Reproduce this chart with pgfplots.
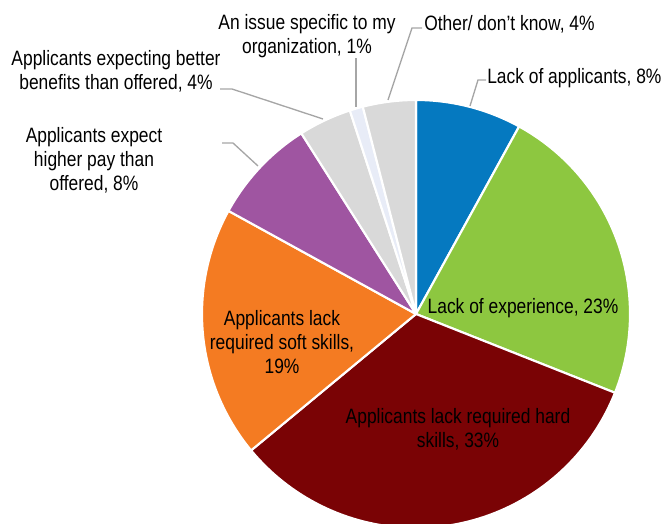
\documentclass[border=0pt]{standalone}
\usepackage{pgfplots}
\pgfplotsset{compat=1.18}
\usepackage{fontspec}
\setmainfont{Liberation Sans}[FakeStretch=0.837]
\definecolor{cBlue}{HTML}{0579C0}
\definecolor{cGreen}{HTML}{8DC740}
\definecolor{cRed}{HTML}{7A0305}
\definecolor{cOrange}{HTML}{F47B22}
\definecolor{cPurple}{HTML}{9F55A1}
\definecolor{cGrey}{HTML}{D9D9D9}
\definecolor{cLav}{HTML}{E8ECF7}
\definecolor{cLine}{HTML}{A6A6A6}
\tikzset{lbl/.style={font=\fontsize{15.6pt}{18pt}\selectfont, align=center, text=black, inner sep=0pt}}
% center and radius in pixel units (y measured from bottom)
\def\cx{416}
\def\cy{210}
\def\R{214}
% #1 = cumulative percent before slice, #2 = slice percent, #3 = colour
\newcommand\slice[3]{%
  \addplot[fill=#3, draw=white, line width=1.6pt, line join=round,
    domain={90-3.6*(#1+#2)}:{90-3.6*(#1)}, samples=80, variable=\t]
    ({\cx+\R*cos(\t)},{\cy+\R*sin(\t)}) -- (\cx,\cy) -- cycle;}
\begin{document}
\begin{tikzpicture}
\begin{axis}[x=0.75pt, y=0.75pt, xmin=0, xmax=664, ymin=0, ymax=524,
  hide axis, scale only axis, clip=true]
% shares (percent), clockwise from 12 o'clock
\slice{0}{8}{cBlue}
\slice{8}{23}{cGreen}
\slice{31}{33}{cRed}
\slice{64}{19}{cOrange}
\slice{83}{8}{cPurple}
\slice{91}{4}{cGrey}
\slice{95}{1}{cLav}
\slice{96}{4}{cGrey}
% leader lines
\addplot[cLine, line width=1pt, no marks] coordinates {(470,418) (478,444) (486,444)};
\addplot[cLine, line width=1pt, no marks] coordinates {(388,424) (412,496) (422,496)};
\addplot[cLine, line width=1pt, no marks] coordinates {(356,417) (356,466)};
\addplot[cLine, line width=1pt, no marks] coordinates {(323,405) (232,435) (220,435)};
\addplot[cLine, line width=1pt, no marks] coordinates {(258,358) (233,381) (222,381)};
% labels
\node[lbl, anchor=west] at (487,446) {Lack of applicants, 8\%};
\node[lbl, anchor=west] at (424,500) {Other/ don’t know, 4\%};
\node[lbl] at (307,488) {An issue specific to my\\organization, 1\%};
\node[lbl] at (116,453) {Applicants expecting better\\benefits than offered, 4\%};
\node[lbl] at (94,364) {Applicants expect\\higher pay than\\offered, 8\%};
\node[lbl] at (523,216) {Lack of experience, 23\%};
\node[lbl] at (458,95) {Applicants lack required hard\\skills, 33\%};
\node[lbl] at (282,182) {Applicants lack\\required soft skills,\\19\%};
\end{axis}
\pgfresetboundingbox
\useasboundingbox (current axis.south west) rectangle (current axis.north east);
\end{tikzpicture}
\end{document}
